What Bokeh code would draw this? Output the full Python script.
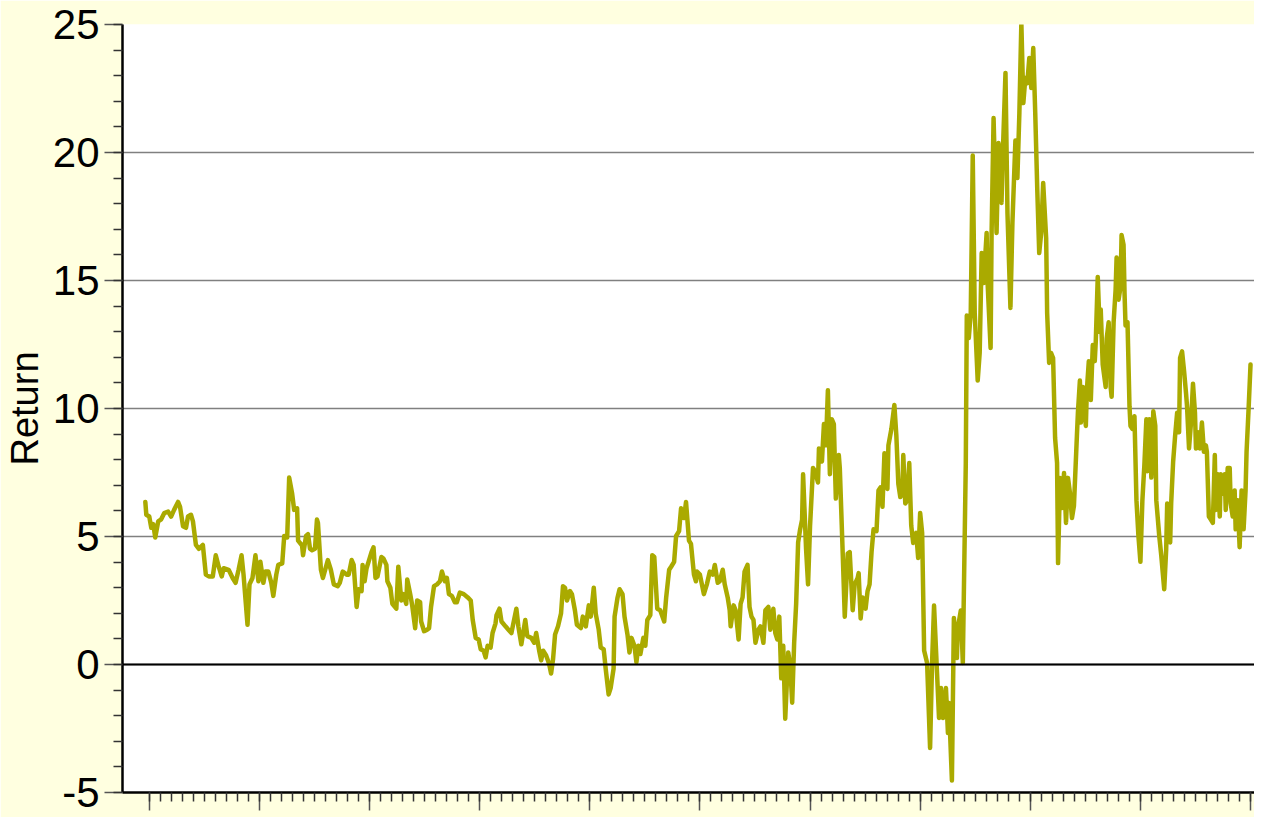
from bokeh.plotting import figure
from bokeh.models import FixedTicker, Span, Range1d
from bokeh.embed import file_html
from bokeh.resources import INLINE

# day index and return values
days = [1, 2, 5, 7, 9, 11, 14, 17, 20, 24, 27, 30, 34, 36, 39, 42, 44, 47, 49, 52, 55, 59, 62, 65, 69,
        72, 75, 78, 80, 85, 89, 92, 95, 98, 100, 104, 106, 109, 112, 115, 117, 120, 122, 125, 128,
        130, 133, 135, 139, 141, 144, 146, 149, 151, 154, 155, 159, 160, 163, 165, 167, 169, 172,
        174, 175, 178, 180, 185, 188, 191, 195, 197, 200, 204, 206, 209, 211, 214, 216, 219, 220,
        222, 224, 226, 229, 231, 233, 235, 239, 241, 244, 245, 248, 250, 254, 256, 259, 261, 264,
        265, 268, 270, 273, 275, 278, 279, 282, 285, 287, 289, 292, 295, 298, 300, 303, 305, 307,
        310, 313, 315, 318, 322, 326, 329, 331, 334, 337, 339, 342, 344, 346, 349, 351, 354, 355,
        358, 360, 364, 367, 370, 373, 375, 377, 380, 384, 386, 390, 393, 395, 398, 400, 402, 405,
        408, 410, 412, 414, 417, 420, 422, 424, 426, 429, 431, 434, 436, 440, 442, 445, 448, 450,
        453, 455, 458, 460, 463, 465, 468, 470, 473, 474, 477, 479, 482, 484, 487, 489, 491, 494,
        496, 498, 500, 503, 505, 507, 510, 512, 514, 517, 520, 524, 526, 529, 531, 534, 536, 539,
        541, 544, 546, 549, 551, 554, 556, 557, 560, 564, 567, 570, 573, 575, 578, 580, 583, 585,
        588, 590, 591, 594, 596, 599, 601, 603, 605, 608, 610, 612, 614, 616, 619, 621, 624, 626,
        629, 631, 634, 636, 638, 640, 642, 644, 646, 649, 651, 653, 655, 657, 659, 661, 663, 664,
        667, 669, 671, 674, 676, 679, 680, 683, 685, 687, 689, 691, 693, 695, 697, 700, 701, 704,
        706, 709, 711, 714, 716, 719, 720, 722, 724, 727, 729, 731, 733, 735, 738, 740, 742, 744,
        746, 749, 750, 753, 756, 758, 760, 762, 764, 765, 767, 769, 771, 773, 775, 778, 780, 782,
        784, 786, 789, 792, 794, 796, 799, 801, 803, 805, 808, 810, 811, 814, 816, 819, 820, 823,
        825, 828, 829, 831, 833, 835, 837, 840, 842, 844, 846, 849, 850, 853, 854, 856, 859, 861,
        864, 865, 868, 870, 873, 875, 878, 880, 882, 884, 886, 888, 890, 892, 894, 896, 898, 900,
        902, 904, 906, 909, 910, 912, 914, 916, 918, 920, 921, 923, 925, 927, 929, 931, 933, 935,
        937, 940, 941, 943, 944, 946, 949, 950, 952, 954, 956, 958, 959, 961, 963, 964, 966, 969,
        970, 972, 974, 975, 977, 979, 980, 982, 984, 985, 987, 988, 989, 991, 993, 994, 996, 998,
        1000, 1002, 1004, 1006, 1008, 1010, 1011, 1013, 1015, 1017, 1019, 1020, 1023, 1025, 1028,
        1030, 1031, 1034, 1035, 1037, 1039, 1041, 1043, 1044, 1046, 1048, 1050, 1051, 1053, 1055,
        1057, 1059, 1060, 1062, 1064, 1066, 1068, 1070, 1071, 1073, 1075, 1077, 1079, 1080, 1082,
        1084, 1085, 1087, 1089, 1090, 1092, 1094, 1095, 1097, 1099, 1100, 1102, 1104, 1106, 1108,
        1110, 1111, 1113, 1115]

returns = [6.35, 5.85, 5.78, 5.34, 5.48, 4.96, 5.59, 5.67, 5.91, 5.97, 5.78, 6.04, 6.35, 6.16, 5.40,
           5.34, 5.78, 5.85, 5.59, 4.67, 4.52, 4.67, 3.51, 3.44, 3.44, 4.27, 3.82, 3.44, 3.76, 3.70,
           3.38, 3.19, 3.70, 4.27, 3.51, 1.55, 3.13, 3.38, 4.27, 3.25, 4.01, 3.19, 3.63, 3.63, 3.19,
           2.68, 3.51, 3.89, 3.95, 5.02, 4.96, 7.30, 6.67, 6.04, 6.10, 4.84, 4.65, 4.27, 5.02, 5.09,
           4.52, 4.46, 4.52, 5.66, 5.53, 3.70, 3.38, 4.08, 3.70, 3.13, 3.06, 3.19, 3.63, 3.51, 3.51,
           4.08, 3.89, 2.25, 2.94, 2.87, 3.89, 3.25, 3.76, 4.01, 4.39, 4.58, 3.38, 3.44, 4.20, 4.14,
           3.89, 3.25, 3.00, 2.37, 2.18, 3.82, 2.50, 2.75, 2.37, 3.32, 2.75, 2.31, 1.42, 2.50, 2.43,
           1.68, 1.30, 1.36, 1.42, 2.25, 3.06, 3.13, 3.25, 3.63, 3.25, 3.38, 2.75, 2.68, 2.43, 2.43,
           2.81, 2.75, 2.62, 2.50, 1.74, 1.04, 0.98, 0.60, 0.54, 0.28, 0.73, 0.66, 1.23, 1.61, 1.93,
           2.18, 1.68, 1.49, 1.36, 1.23, 1.80, 2.18, 1.49, 0.79, 1.74, 1.11, 1.04, 0.85, 1.23, 0.54,
           0.16, 0.54, 0.35, 0.03, -0.35, 0.22, 1.17, 1.49, 1.99, 3.06, 3.00, 2.50, 2.87, 2.75, 2.12,
           1.55, 1.42, 1.87, 1.49, 2.31, 1.87, 3.00, 1.99, 1.36, 0.66, 0.60, -0.16, -1.17, -0.92,
           -0.16, 1.87, 2.62, 2.94, 2.75, 1.87, 1.17, 0.47, 1.04, 0.73, 0.09, 0.73, 0.41, 1.04, 0.73,
           1.74, 1.93, 4.27, 4.20, 2.18, 2.12, 1.68, 2.62, 3.70, 3.82, 4.01, 5.02, 5.21, 6.10, 5.72,
           6.35, 4.84, 4.71, 3.51, 3.25, 3.63, 3.51, 2.75, 3.13, 3.63, 3.51, 3.89, 3.19, 3.25, 3.70,
           3.13, 2.62, 2.12, 1.49, 2.31, 2.12, 0.98, 2.37, 2.62, 3.63, 3.89, 2.25, 1.87, 1.74, 0.85,
           1.36, 1.49, 0.85, 2.12, 2.25, 1.36, 2.18, 1.23, 0.98, 1.87, -0.54, 0.73, -2.12, 0.47,
           -0.03, -1.49, 0.85, 2.37, 4.77, 5.28, 5.66, 7.43, 4.52, 3.13, 5.40, 7.68, 7.55, 7.11, 8.44,
           7.93, 9.39, 8.56, 10.71, 7.43, 9.58, 9.39, 6.48, 8.18, 7.68, 4.27, 1.87, 4.33, 4.39, 2.12,
           3.13, 3.38, 3.57, 1.80, 2.62, 2.18, 2.87, 3.13, 4.39, 5.28, 5.21, 6.80, 6.92, 6.16, 8.25,
           6.86, 8.56, 9.20, 10.14, 8.94, 7.05, 6.54, 6.67, 8.18, 6.29, 6.41, 7.87, 5.43, 4.75, 5.14,
           4.16, 5.92, 5.14, 0.55, 0.06, -3.26, 0.06, 2.30, -0.33, -2.09, -0.92, -2.09, -0.92, -2.68,
           -1.50, -4.53, 1.82, 0.25, 1.43, 2.11, 0.06, 7.87, 13.63, 12.75, 13.73, 19.88, 13.73, 11.09,
           12.17, 16.07, 14.90, 16.86, 14.90, 12.36, 16.86, 21.35, 16.86, 20.37, 18.03, 19.59, 23.11,
           17.64, 13.93, 17.25, 20.47, 19.00, 21.54, 25.06, 21.93, 22.91, 22.71, 23.69, 22.52, 24.08,
           21.54, 18.61, 16.07, 16.86, 18.81, 16.66, 13.73, 11.78, 12.17, 11.97, 8.85, 7.87, 3.96,
           7.29, 6.11, 7.48, 5.53, 7.29, 6.70, 5.72, 6.20, 8.94, 9.83, 11.09, 9.45, 10.84, 9.32,
           10.71, 11.85, 10.33, 12.48, 11.85, 12.61, 15.14, 12.99, 13.87, 11.72, 10.84, 12.73, 13.37,
           10.84, 10.46, 13.37, 14.63, 15.90, 14.25, 14.76, 16.78, 16.40, 14.51, 13.24, 13.37, 10.08,
           9.32, 9.20, 9.70, 6.42, 5.02, 4.01, 6.42, 7.80, 9.58, 7.55, 9.58, 7.30, 9.89, 9.32, 6.42,
           5.02, 4.27, 2.94, 4.52, 6.29, 4.77, 6.29, 7.93, 8.94, 9.83, 9.07, 11.98, 12.23, 11.47,
           10.59, 10.08, 8.44, 9.45, 10.97, 9.83, 8.44, 9.07, 8.44, 9.45, 8.31, 8.56, 8.31, 5.78,
           5.66, 5.53, 8.18, 6.04, 7.43, 5.78, 7.43, 6.67, 7.43, 6.04, 7.68, 7.68, 6.29, 5.78, 6.80,
           5.28, 6.42, 4.58, 6.80, 5.28, 6.80, 8.31, 9.95, 11.72]

y_ticks = [-5, 0, 5, 10, 15, 20, 25]
y_tick_labels = {-5: "-5", 0: "0", 5: "5", 10: "10", 15: "15", 20: "20", 25: "25"}
y_minor = list(range(-5, 26))
x_major = [5 + 111 * k for k in range(11)]
x_minor = [5 + 11.1 * j for j in range(101)]

BG = "#FFFFE0"
LINE = "#AAAA00"

p = figure(width=1254, height=817, output_backend="svg", toolbar_location=None,
           x_range=Range1d(-22, 1119), y_range=Range1d(-5, 25),
           min_border_left=10, min_border_right=0, min_border_top=24, min_border_bottom=25)
p.background_fill_color = "white"
p.border_fill_color = BG
p.outline_line_color = None

# grid
p.xgrid.visible = False
p.ygrid.ticker = FixedTicker(ticks=y_ticks)
p.ygrid.grid_line_color = "#808080"
p.ygrid.grid_line_width = 1.3

p.add_layout(Span(location=0, dimension="width", line_color="black", line_width=2))

# y axis
ya = p.yaxis[0]
ya.ticker = FixedTicker(ticks=y_ticks, minor_ticks=y_minor)
ya.axis_line_color = "black"
ya.axis_line_width = 2.5
ya.major_tick_in = 0
ya.major_tick_out = 18
ya.minor_tick_in = 0
ya.minor_tick_out = 9
ya.major_tick_line_color = "#555555"
ya.minor_tick_line_color = "#333333"
ya.major_tick_line_width = 1.5
ya.minor_tick_line_width = 1.5
ya.major_label_text_font = "Liberation Sans"
ya.major_label_text_font_size = "42px"
ya.major_label_text_color = "black"
ya.major_label_standoff = 5
ya.major_label_overrides = y_tick_labels
ya.axis_label = "Return"
ya.axis_label_text_font = "Liberation Sans"
ya.axis_label_text_font_size = "38px"
ya.axis_label_text_font_style = "normal"
ya.axis_label_text_color = "black"
ya.axis_label_standoff = 4

# x axis
xa = p.xaxis[0]
xa.ticker = FixedTicker(ticks=x_major, minor_ticks=x_minor)
xa.axis_line_color = "black"
xa.axis_line_width = 2.5
xa.major_tick_in = 0
xa.major_tick_out = 18
xa.minor_tick_in = 0
xa.minor_tick_out = 9
xa.major_tick_line_color = "#555555"
xa.minor_tick_line_color = "#333333"
xa.major_tick_line_width = 1.5
xa.minor_tick_line_width = 1.5
xa.major_label_text_font_size = "0px"
xa.major_label_text_color = None
xa.major_label_standoff = 0
xa.axis_label_standoff = 0

p.line(days, returns, line_color=LINE, line_width=4.5, line_join="round", line_cap="round")

open("out.html", "w").write(file_html(p, INLINE))
